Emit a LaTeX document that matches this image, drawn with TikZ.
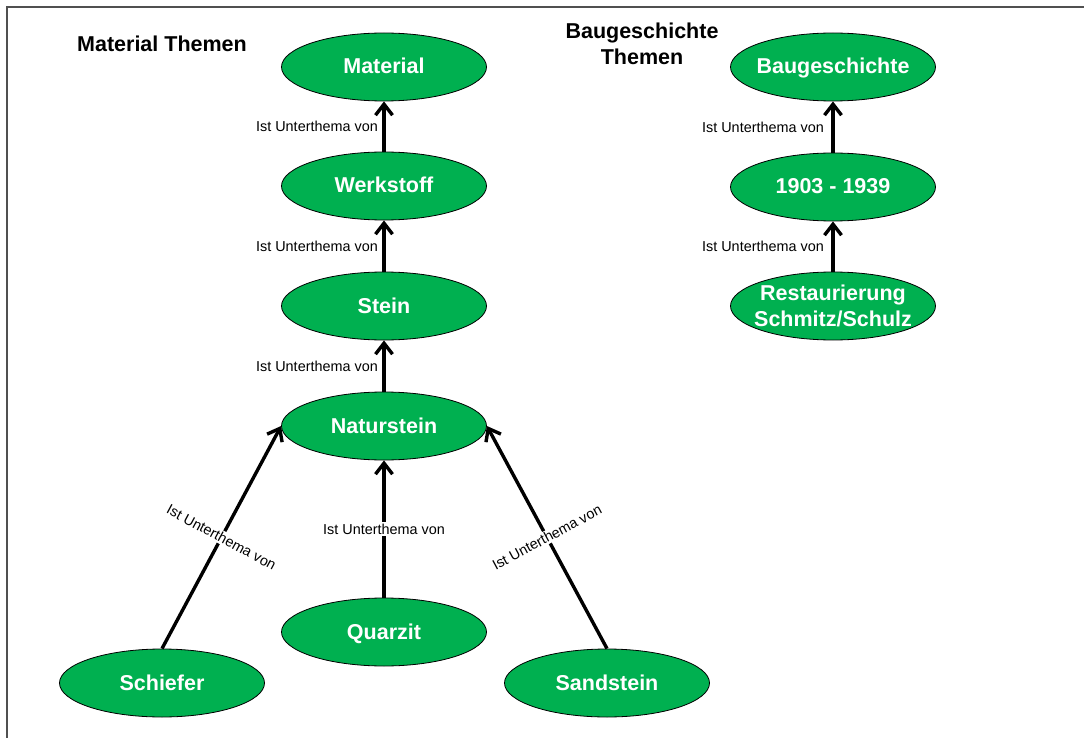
\documentclass[tikz,border=0pt]{standalone}
\usepackage{fontspec}
\setmainfont{Liberation Sans}
\usetikzlibrary{shapes.geometric, arrows.meta}
\definecolor{topicgreen}{HTML}{00B050}
\definecolor{framegray}{HTML}{505050}

\begin{document}
\begin{tikzpicture}[x=1pt, y=-1pt,
  topic/.style={ellipse, draw=black, line width=0.8pt, fill=topicgreen,
    minimum width=205pt, minimum height=68pt, inner xsep=-12pt, inner ysep=0pt,
    text height=16pt, text depth=2pt,
    text=white, font=\fontsize{21.5}{25.5}\selectfont\bfseries, align=center},
  twoline/.style={text height={}, text depth={}},
  heading/.style={font=\fontsize{21.5}{26}\selectfont\bfseries, align=center, inner sep=0pt},
  rel/.style={line width=3.4pt, -{Straight Barb[length=11pt, width=17pt]}},
  relabel/.style={font=\fontsize{14.4}{16}\selectfont, inner sep=1.5pt},
]
\useasboundingbox (0,0) rectangle (1084,738);

% page frame (top and left edges)
\coordinate (fbl) at (7,738);
\coordinate (ftl) at (7,7);
\coordinate (ftr) at (1084,7);
\draw[framegray, line width=1.8pt] (fbl) -- (ftl) -- (ftr);

% headings
\node[heading, anchor=base] (tmat) at (162,52) {Material Themen};
\node[heading] (tbau) at (642,44) {Baugeschichte\\Themen};

% material topics
\node[topic] (mat) at (384,67)  {Material};
\node[topic] (wer) at (384,186) {Werkstoff};
\node[topic] (ste) at (384,306) {Stein};
\node[topic] (nat) at (384,426) {Naturstein};
\node[topic] (qua) at (384,632) {Quarzit};
\node[topic] (sch) at (162,683) {Schiefer};
\node[topic] (san) at (607,683) {Sandstein};

% building history topics
\node[topic] (bau)  at (833,67)  {Baugeschichte};
\node[topic] (zeit) at (833,187) {1903 - 1939};
\node[topic, twoline] (res) at (833,306) {Restaurierung\\Schmitz/Schulz};

% subtopic relations
\draw[rel] (wer) -- (mat) node[midway, relabel, left, xshift=-3pt] (l1) {Ist Unterthema von};
\draw[rel] (ste) -- (wer) node[midway, relabel, left, xshift=-3pt] (l2) {Ist Unterthema von};
\draw[rel] (nat) -- (ste) node[midway, relabel, left, xshift=-3pt] (l3) {Ist Unterthema von};
\draw[rel] (qua) -- (nat) node[midway, relabel, fill=white] (l4) {Ist Unterthema von};
\draw[rel] (sch.north) -- (nat.west) node[midway, relabel, fill=white, rotate=-28.3] (l5) {Ist Unterthema von};
\draw[rel] (san.north) -- (nat.east) node[midway, relabel, fill=white, rotate=28.3] (l6) {Ist Unterthema von};

\draw[rel] (zeit) -- (bau) node[midway, relabel, left, xshift=-6pt] (l7) {Ist Unterthema von};
\draw[rel] (res) -- (zeit) node[midway, relabel, left, xshift=-6pt] (l8) {Ist Unterthema von};
\end{tikzpicture}
\end{document}
